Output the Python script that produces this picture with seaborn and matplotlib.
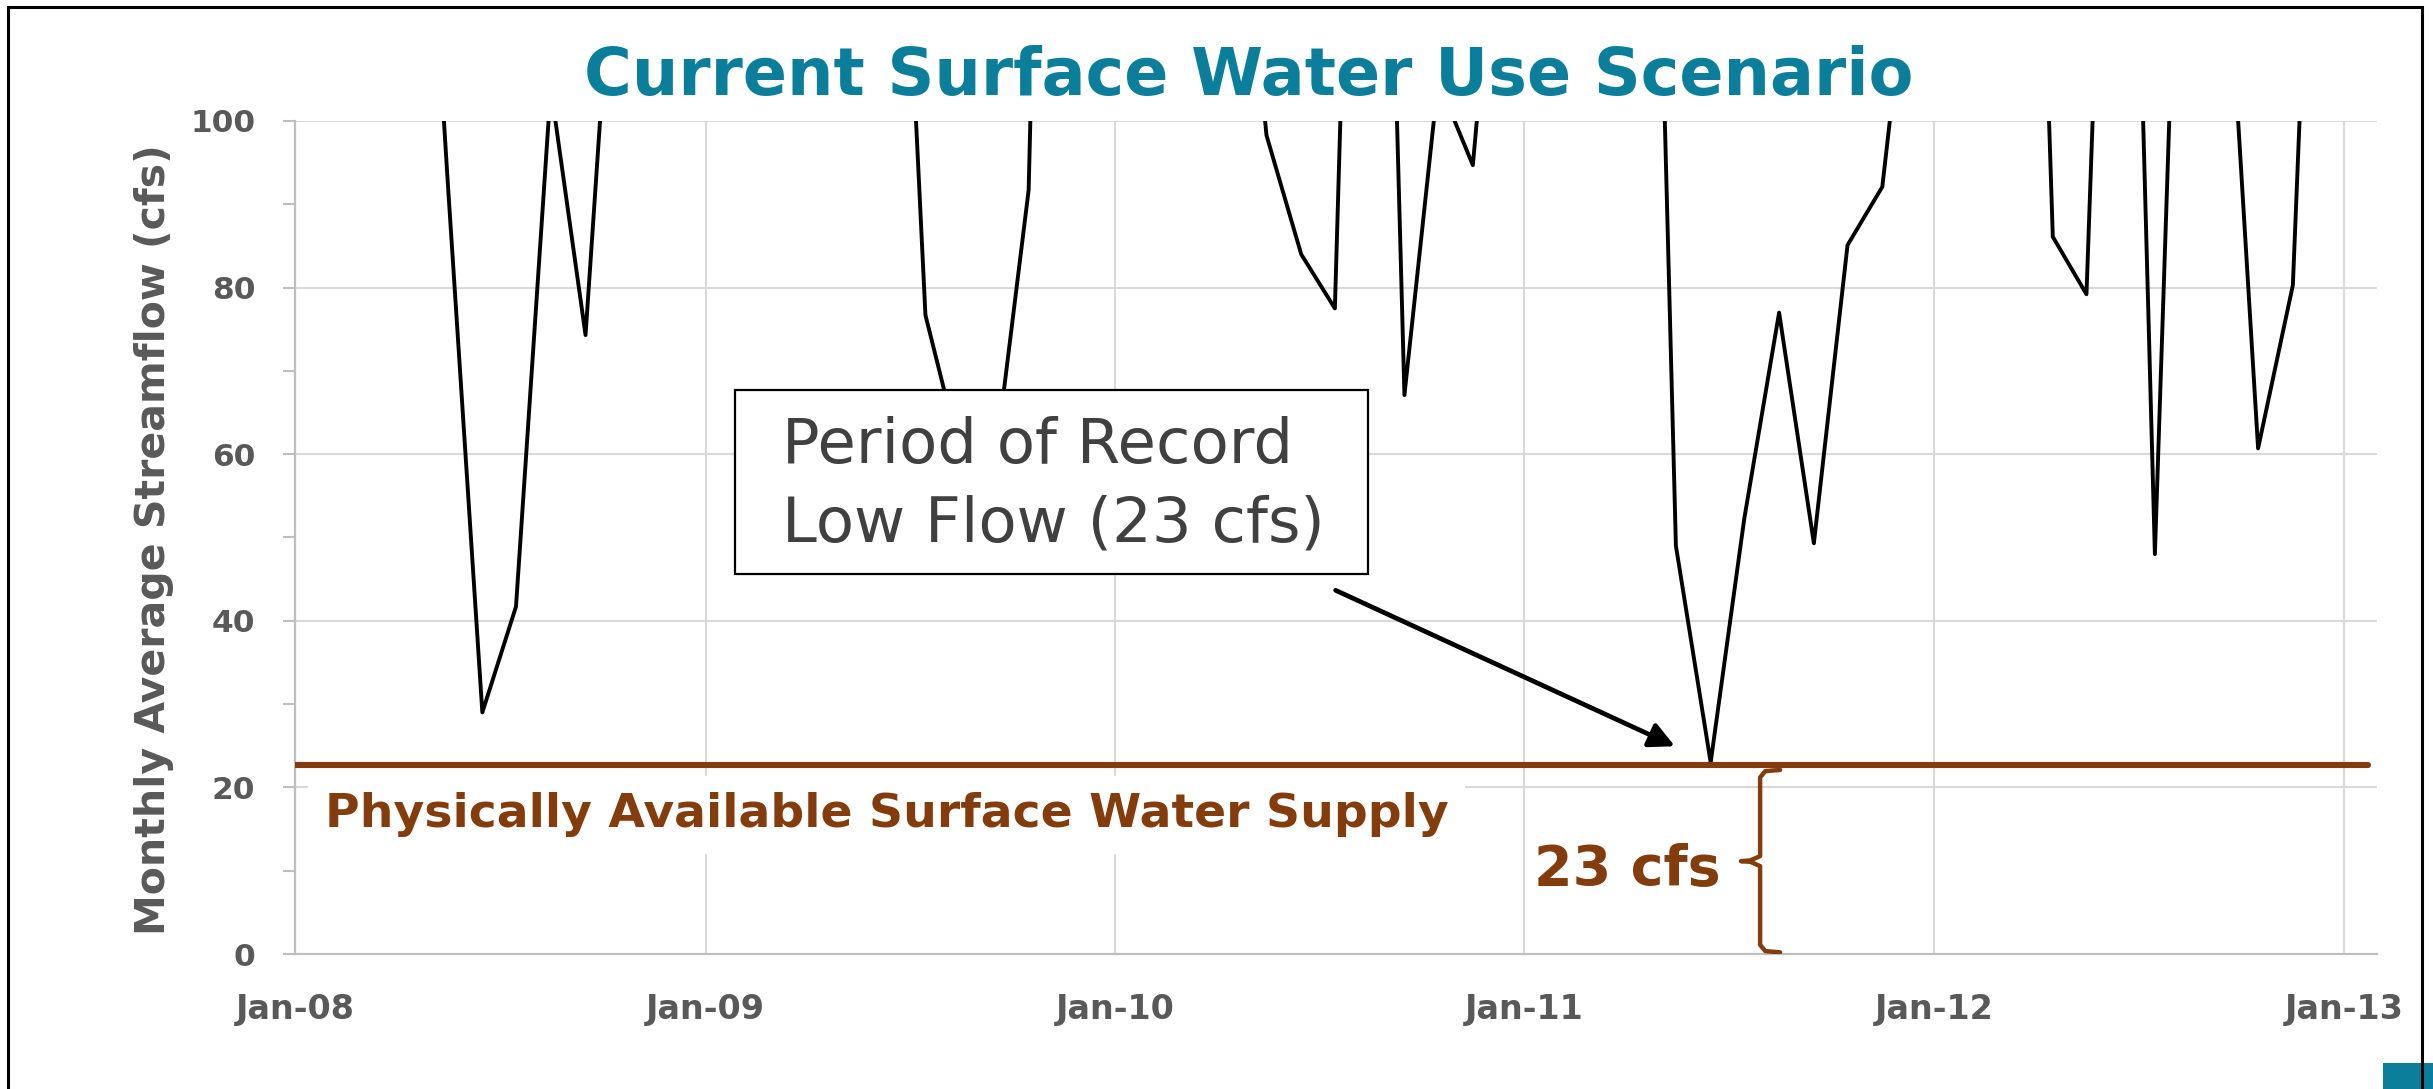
import numpy as np
import pandas as pd
import matplotlib
matplotlib.use('Agg')
import matplotlib.pyplot as plt
import matplotlib.dates as mdates
from matplotlib.patches import Rectangle
import seaborn as sns

# monthly average streamflow (cfs), Jan..Dec of each year
# (values above 100 run off the top of the chart)
flow_2008 = [250, 300, 280, 158, 93, 29, 41.7, 104, 74.3, 134, 200, 220]
flow_2009 = [180, 260, 300, 240, 210, 160, 76.7, 60, 59, 91.7, 261, 230]
flow_2010 = [200, 250, 220, 142, 98.3, 84, 77.5, 221, 67.1, 104.8, 94.7, 140]
flow_2011 = [170, 260, 300, 204, 49, 23, 52.3, 77, 49.3, 85.1, 92.1, 127.5]
flow_2012 = [230, 280, 215, 86.1, 79.2, 197, 48, 174, 127, 60.7, 80.3, 180]

supply = 22.7          # physically available surface water supply (cfs)
supply_label = "23 cfs"
title = "Current Surface Water Use Scenario"
ylab = "Monthly Average Streamflow (cfs)"
box_text = "Period of Record\nLow Flow (23 cfs)"
supply_text = "Physically Available Surface Water Supply"

months = pd.date_range('2008-01-01', periods=60, freq='MS') + pd.Timedelta(days=15)
df = pd.DataFrame({'month': months,
                   'flow': flow_2008 + flow_2009 + flow_2010 + flow_2011 + flow_2012})

TEAL = '#0B7E9C'
BROWN = '#843C0C'
GRAY = '#595959'

sns.set_theme(style='whitegrid')
plt.rcParams['font.family'] = ['DejaVu Sans']

W, H = 2433, 1089
fig = plt.figure(figsize=(W / 100, H / 100), dpi=100)
ax = fig.add_axes([295 / W, 1 - 954 / H, (2377 - 295) / W, (954 - 121) / H])

sns.lineplot(data=df, x='month', y='flow', color='black', linewidth=2.8, ax=ax, zorder=3)

ax.set_ylim(0, 100)
ax.set_xlim(pd.Timestamp('2008-01-01'), pd.Timestamp('2013-01-30'))
ax.set_yticks(range(0, 101, 20))
ax.set_yticks(range(10, 100, 20), minor=True)
ax.xaxis.set_major_locator(mdates.YearLocator())
ax.xaxis.set_major_formatter(mdates.DateFormatter('%b-%y'))

ax.grid(True, which='major', color='#d9d9d9', lw=1.5)
ax.grid(False, which='minor')
for s in ['top', 'right']:
    ax.spines[s].set_visible(False)
for s in ['left', 'bottom']:
    ax.spines[s].set_color('#bfbfbf')
    ax.spines[s].set_linewidth(1.6)

ax.tick_params(axis='y', which='both', left=True, direction='out', length=8.6,
               width=1.5, color='#bfbfbf', pad=20, labelsize=22.5, labelcolor=GRAY)
ax.tick_params(axis='x', length=0, pad=28, labelsize=24, labelcolor=GRAY)
for lbl in ax.get_xticklabels() + ax.get_yticklabels():
    lbl.set_fontweight('bold')

ax.set_xlabel('')
ax.set_ylabel(ylab, fontsize=29.5, fontweight='bold', color=GRAY)
ax.yaxis.set_label_coords(-0.058, 0.497)

# supply line and labels
ax.axhline(supply, xmin=0, xmax=0.9957, color=BROWN, lw=4.4, zorder=5)
ax.text(0.0144, 15.2, supply_text, transform=ax.get_yaxis_transform(),
        ha='left', va='baseline', fontsize=34, fontweight='bold', color=BROWN, zorder=4,
        bbox=dict(boxstyle='square,pad=0.35', fc='white', ec='none'))
ax.text(0.595, 8.3, supply_label, transform=ax.get_yaxis_transform(),
        ha='left', va='baseline', fontsize=40, fontweight='bold', color=BROWN, zorder=4)

# brace from 0 to supply
bt = ax.get_yaxis_transform()
top, bot = supply - 0.6, 0.2
mid = (top + bot) / 2
bx = [0.7133, 0.7062, 0.7037, 0.7037, 0.6990, 0.6945, 0.6990, 0.7037, 0.7037, 0.7062, 0.7133]
by = [top, top - 0.15, top - 0.9, mid + 0.6, mid + 0.08, mid, mid - 0.08, mid - 0.6,
      bot + 0.9, bot + 0.15, bot]
ax.plot(bx, by, transform=bt, color=BROWN, lw=3.2, solid_joinstyle='round', zorder=4)

# annotation box and arrow
ax.add_patch(Rectangle((0.2113, 0.456), 0.304, 0.221, transform=ax.transAxes,
                       fc='white', ec='black', lw=1.6, zorder=6))
ax.text(0.234, 0.563, box_text, transform=ax.transAxes, ha='left', va='center',
        fontsize=45, color='#404040', linespacing=1.4, zorder=7)
ax.annotate('', xy=(0.664, 0.248), xytext=(0.4986, 0.438), xycoords='axes fraction',
            arrowprops=dict(arrowstyle='-|>', lw=3.4, color='black', mutation_scale=38),
            zorder=7)

# title
fig.text(1249 / W, 1 - 95 / H, title, ha='center', va='baseline', fontsize=47,
         fontweight='bold', color=TEAL)

# slide frame and corner mark
fig.add_artist(Rectangle((2383 / W, 0), 50 / W, 26 / H, transform=fig.transFigure,
                         fc=TEAL, ec='none'))
fig.add_artist(Rectangle((8 / W, -0.05), (2422 - 8) / W, 1.05 - 7 / H,
                         transform=fig.transFigure, fill=False, ec='black', lw=2.2))

fig.savefig('out.png', dpi=100)
